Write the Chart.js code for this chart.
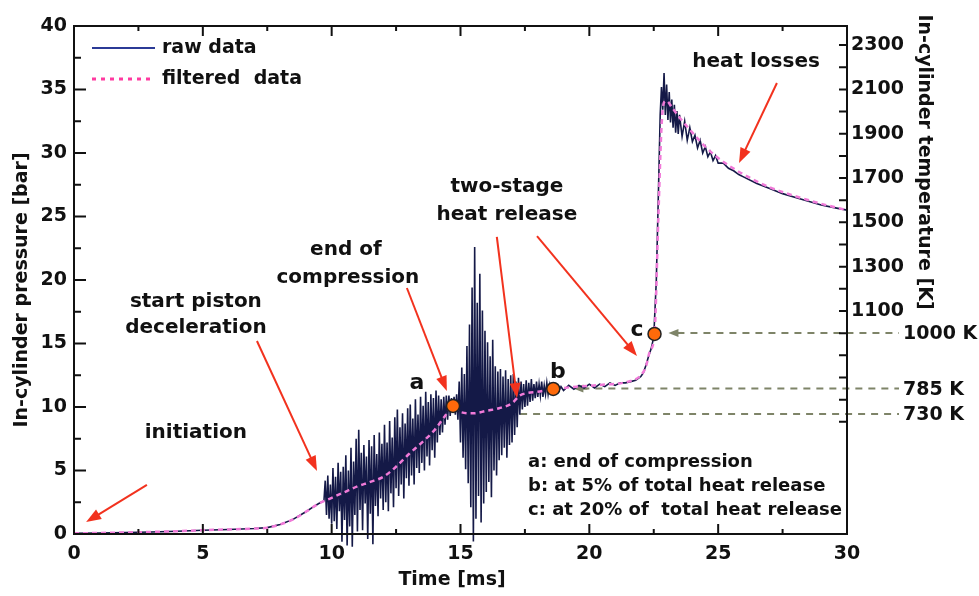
<!DOCTYPE html>
<html>
<head>
<meta charset="utf-8">
<script src="https://cdn.jsdelivr.net/npm/chart.js@4.4.1/dist/chart.umd.min.js"></script>
<style>
  html, body { margin: 0; padding: 0; background: #fff; }
  #chart-container { width: 979px; height: 596px; position: relative; }
</style>
</head>
<body>
<div id="chart-container"><canvas id="myChart"></canvas></div>
<script>
// ---- data ----
const timeTicks = [0, 5, 10, 15, 20, 25, 30];
const pressureTicks = [0, 5, 10, 15, 20, 25, 30, 35, 40];
const tempTicks = [600, 700, 800, 900, 1000, 1100, 1200, 1300, 1400, 1500, 1600, 1700, 1800, 1900, 2000, 2100, 2200, 2300];
const tempLabels = [1100, 1300, 1500, 1700, 1900, 2100, 2300];

// raw pressure trace [ms], [bar]
const rawTime = [
  0, 1, 2, 3, 4, 5, 6, 7, 7.5, 8, 8.5, 9, 9.3, 9.5,
  9.70, 9.75, 9.80, 9.85, 9.90, 9.95, 10.00,
  10.05, 10.10, 10.15, 10.20, 10.25, 10.30, 10.35, 10.40, 10.45, 10.50,
  10.55, 10.60, 10.65, 10.70, 10.75, 10.80, 10.85, 10.90, 10.95, 11.00,
  11.05, 11.10, 11.15, 11.20, 11.25, 11.30, 11.35, 11.40, 11.45, 11.50,
  11.55, 11.60, 11.65, 11.70, 11.75, 11.80, 11.85, 11.90, 11.95, 12.00,
  12.05, 12.10, 12.15, 12.20, 12.25, 12.30, 12.35, 12.40, 12.45, 12.50,
  12.55, 12.60, 12.65, 12.70, 12.75, 12.80, 12.85, 12.90, 12.95, 13.00,
  13.05, 13.10, 13.15, 13.20, 13.25, 13.30, 13.35, 13.40, 13.45, 13.50,
  13.55, 13.60, 13.65, 13.70, 13.75, 13.80, 13.85, 13.90, 13.95, 14.00,
  14.05, 14.10, 14.15, 14.20, 14.25, 14.30, 14.35, 14.40, 14.45, 14.50,
  14.55, 14.60, 14.65, 14.70, 14.75, 14.80, 14.85, 14.90, 14.95, 15.00,
  15.05, 15.10, 15.15, 15.20, 15.25, 15.30, 15.35, 15.40, 15.45, 15.50,
  15.55, 15.60, 15.65, 15.70, 15.75, 15.80, 15.85, 15.90, 15.95, 16.00,
  16.05, 16.10, 16.15, 16.20, 16.25, 16.30, 16.35, 16.40, 16.45, 16.50,
  16.55, 16.60, 16.65, 16.70, 16.75, 16.80, 16.85, 16.90, 16.95, 17.00,
  17.05, 17.10, 17.15, 17.20, 17.25, 17.30, 17.35, 17.40, 17.45, 17.50,
  17.55, 17.60, 17.65, 17.70, 17.75, 17.80, 17.85, 17.90, 17.95, 18.00,
  18.05, 18.10, 18.15, 18.20, 18.25, 18.30, 18.35, 18.40, 18.45, 18.50,
  18.6, 18.7, 18.8, 18.9, 19.0, 19.2, 19.4, 19.6, 19.8, 20.0,
  20.2, 20.4, 20.6, 20.8, 21.0, 21.2, 21.4, 21.6, 21.8, 22.0,
  22.1, 22.2, 22.3, 22.4, 22.5, 22.6, 22.7, 22.75, 22.8, 22.85,
  22.9, 22.95, 23.0, 23.05, 23.1, 23.15, 23.2, 23.25, 23.3, 23.35,
  23.4, 23.45, 23.5, 23.6, 23.7, 23.8, 23.9, 24.0, 24.1, 24.2,
  24.3, 24.4, 24.5, 24.6, 24.7, 24.8, 24.9, 25.0, 25.2, 25.4,
  25.6, 25.8, 26.0, 26.5, 27.0, 27.5, 28.0, 28.5, 29.0, 29.5, 30.0
];
const rawPressure = [
  0.05, 0.08, 0.12, 0.16, 0.22, 0.3, 0.36, 0.43, 0.5, 0.75, 1.15, 1.75, 2.15, 2.4,
  2.6, 4.2, 1.5, 4.6, 1.2, 3.9, 0.8,
  5.2, 1.0, 4.5, 0.4, 5.6, 1.8, 4.9, -0.6, 5.3, 1.1,
  6.2, -0.9, 5.0, 0.6, 6.8, -1.0, 5.7, 1.5, 7.5, 0.2,
  8.2, 1.9, 6.4, 0.3, 7.0, 2.4, 6.1, -0.4, 7.4, 1.6,
  6.9, -0.8, 7.8, 2.2, 6.3, 1.4, 8.0, 2.8, 7.1, 1.9,
  8.6, 2.5, 7.2, 1.8, 8.9, 3.2, 7.6, 2.1, 9.2, 3.6,
  9.8, 3.0, 8.4, 3.9, 9.5, 2.8, 8.7, 4.4, 9.9, 3.8,
  10.2, 4.6, 9.1, 3.9, 10.6, 5.2, 9.4, 4.8, 10.8, 5.6,
  10.1, 5.0, 11.2, 6.1, 10.4, 5.4, 11.0, 6.6, 10.7, 6.0,
  11.3, 7.2, 10.9, 7.8, 10.6, 8.0, 10.8, 8.6, 10.9, 9.0,
  10.9, 9.3, 10.7, 9.6, 10.8, 9.4, 11.0, 9.0, 12.0, 7.2,
  13.1, 6.0, 12.6, 5.1, 14.8, 4.0, 16.5, 2.1, 19.4, -0.6,
  22.6, 1.2, 18.2, 3.0, 20.5, 0.9, 17.6, 2.4, 16.0, 3.3,
  15.1, 4.1, 14.0, 2.9, 15.3, 5.0, 13.2, 4.6, 12.8, 5.8,
  13.0, 6.2, 12.4, 6.8, 12.9, 6.0, 12.2, 7.0, 12.5, 7.2,
  12.6, 7.8, 12.0, 8.4, 12.3, 9.4, 12.0, 9.8, 11.8, 10.0,
  12.1, 10.1, 11.9, 10.4, 12.2, 10.5, 11.8, 10.7, 12.0, 10.8,
  11.8, 10.9, 12.0, 10.8, 11.7, 11.0, 11.9, 11.0, 11.7, 11.1,
  11.4, 11.6, 11.2, 11.6, 11.3, 11.7, 11.4, 11.7, 11.5, 11.8,
  11.5, 11.8, 11.6, 11.9, 11.7, 11.9, 11.9, 12.0, 12.1, 12.4,
  12.7, 13.3, 14.0, 14.6, 15.5, 20.0, 28.5, 33.0, 35.2, 33.4,
  36.3, 33.0, 35.4, 32.6, 34.8, 32.4, 34.2, 32.0, 33.8, 31.6,
  33.3, 31.5, 33.0, 31.3, 32.5, 31.0, 32.0, 30.9, 31.4, 30.4,
  31.0, 30.0, 30.5, 29.7, 30.1, 29.4, 29.8, 29.2, 29.2, 28.8,
  28.6, 28.3, 28.1, 27.6, 27.2, 26.8, 26.5, 26.2, 25.9, 25.7, 25.5
];

// filtered pressure trace
const filtTime = [0, 2, 4, 5, 6, 7, 7.5, 8, 8.5, 9, 9.5, 10, 10.5, 11, 11.5, 12, 12.5, 13, 13.5, 14,
  14.4, 14.7, 15, 15.5, 16, 16.5, 17, 17.3, 17.6, 18, 18.6, 19.5, 20.5, 21.5, 22, 22.2, 22.35,
  22.53, 22.68, 22.8, 22.9, 23.0, 23.2, 23.5, 24, 24.5, 25, 25.5, 26, 27, 28, 29, 30];
const filtPressure = [0.05, 0.12, 0.22, 0.3, 0.36, 0.43, 0.5, 0.75, 1.15, 1.75, 2.4, 2.85, 3.3, 3.75, 4.1, 4.5, 5.3, 6.3, 7.2, 8.2,
  9.3, 10.1, 9.6, 9.5, 9.7, 9.9, 10.3, 10.9, 11.1, 11.2, 11.4, 11.6, 11.75, 12.0, 12.5, 13.2, 14.4,
  15.75, 25, 32, 34, 34.1, 33.6, 32.8, 31.6, 30.5, 29.6, 28.9, 28.3, 27.3, 26.6, 26.0, 25.5];

// marked points a, b, c
const markerNames = ["a", "b", "c"];
const markerTime = [14.71, 18.6, 22.53];
const markerPressure = [10.08, 11.42, 15.75];

// temperature reference levels (pressure where the dashed guide sits)
const levelNames = ["1000 K", "785 K", "730 K"];
const levelPressure = [15.83, 11.45, 9.45];
const levelStartTime = [23.07, 19.38, 15.45];

const notes = ["a: end of compression", "b: at 5% of total heat release", "c: at 20% of  total heat release"];

// ---- layout of labels and arrows (in data units) ----
const labelsLayout = [
  { text: "heat losses", t: 26.47, p: 37.17 },
  { text: "two-stage", t: 16.8, p: 27.32 },
  { text: "heat release", t: 16.8, p: 25.12 },
  { text: "end of", t: 10.55, p: 22.36 },
  { text: "compression", t: 10.63, p: 20.16 },
  { text: "start piston", t: 4.73, p: 18.27 },
  { text: "deceleration", t: 4.73, p: 16.22 },
  { text: "initiation", t: 4.73, p: 7.95 }
];
const markerLabelPos = [[13.31, 11.89], [18.78, 12.76], [21.85, 16.06]];
const arrowsLayout = [
  [2.83, 3.86, 0.47, 0.94],
  [7.10, 15.20, 9.43, 4.96],
  [12.92, 19.37, 14.47, 11.26],
  [16.41, 23.39, 17.19, 10.71],
  [17.97, 23.46, 21.85, 14.02],
  [27.28, 35.51, 25.81, 29.21]
];

const FONT = '"DejaVu Sans", Verdana, sans-serif';
const bold = (s) => `bold ${s}px ${FONT}`;
const RED = "#f2321e";
const GUIDE = "#7e8468";

const toXY = (ts, ps) => ts.map((t, i) => ({ x: t, y: ps[i] }));

function drawArrow(ctx, x0, y0, x1, y1, color, len, wid) {
  const ang = Math.atan2(y1 - y0, x1 - x0);
  const c = Math.cos(ang), s = Math.sin(ang);
  ctx.strokeStyle = color;
  ctx.fillStyle = color;
  ctx.beginPath();
  ctx.moveTo(x0, y0);
  ctx.lineTo(x1 - c * len * 0.8, y1 - s * len * 0.8);
  ctx.stroke();
  ctx.beginPath();
  ctx.moveTo(x1, y1);
  ctx.lineTo(x1 - c * len + s * wid / 2, y1 - s * len - c * wid / 2);
  ctx.lineTo(x1 - c * len - s * wid / 2, y1 - s * len + c * wid / 2);
  ctx.closePath();
  ctx.fill();
}

const decorations = {
  id: "decorations",
  beforeDatasetsDraw(chart) {
    const { ctx, chartArea } = chart;
    const x = chart.scales.x, y = chart.scales.y;
    ctx.save();
    ctx.lineWidth = 2;
    levelPressure.forEach((p, i) => {
      const py = y.getPixelForValue(p);
      const px = x.getPixelForValue(levelStartTime[i]);
      const xEnd = chartArea.right + 52;
      ctx.strokeStyle = GUIDE;
      ctx.setLineDash([7, 6]);
      ctx.beginPath();
      ctx.moveTo(px + 9, py);
      ctx.lineTo(xEnd, py);
      ctx.stroke();
      ctx.setLineDash([]);
      drawArrow(ctx, px + 14, py, px, py, GUIDE, 10, 8);
      ctx.fillStyle = "#111";
      ctx.font = bold(19);
      ctx.textAlign = "left";
      ctx.textBaseline = "middle";
      ctx.fillText(levelNames[i], xEnd + 4, py + 1);
    });
    ctx.restore();
  },
  afterDraw(chart) {
    const { ctx, chartArea: ca } = chart;
    const x = chart.scales.x, y = chart.scales.y, y2 = chart.scales.y2;
    ctx.save();
    // frame
    ctx.strokeStyle = "#111";
    ctx.lineWidth = 2;
    ctx.strokeRect(ca.left, ca.top, ca.right - ca.left, ca.bottom - ca.top);
    // ticks
    ctx.lineWidth = 2;
    ctx.beginPath();
    for (let t = 0; t <= 30; t += 2.5) {
      const px = x.getPixelForValue(t);
      const len = t % 5 === 0 ? 10 : 5;
      ctx.moveTo(px, ca.bottom); ctx.lineTo(px, ca.bottom - len);
      ctx.moveTo(px, ca.top); ctx.lineTo(px, ca.top + len);
    }
    for (let p = 0; p <= 40; p += 2.5) {
      const py = y.getPixelForValue(p);
      const len = p % 5 === 0 ? 12 : 7;
      ctx.moveTo(ca.left, py); ctx.lineTo(ca.left + len, py);
    }
    tempTicks.forEach((v) => {
      const py = y2.getPixelForValue(v);
      ctx.moveTo(ca.right, py); ctx.lineTo(ca.right - 8, py);
    });
    ctx.stroke();

    // axis titles
    ctx.fillStyle = "#111";
    ctx.font = bold(19);
    ctx.textAlign = "center";
    ctx.textBaseline = "middle";
    ctx.fillText("Time [ms]", 452, 580);
    ctx.save();
    ctx.translate(22, 290);
    ctx.rotate(-Math.PI / 2);
    ctx.fillText("In-cylinder pressure [bar]", 0, 0);
    ctx.restore();
    ctx.save();
    ctx.translate(924, 162);
    ctx.rotate(Math.PI / 2);
    ctx.fillText("In-cylinder temperature [K]", 0, 0);
    ctx.restore();

    // legend
    const lx = ca.left + 18;
    ctx.lineWidth = 2;
    ctx.strokeStyle = "#2b3a96";
    ctx.beginPath(); ctx.moveTo(lx, ca.top + 22); ctx.lineTo(lx + 63, ca.top + 22); ctx.stroke();
    ctx.strokeStyle = "#ff3aa0";
    ctx.lineWidth = 3;
    ctx.setLineDash([4, 5]);
    ctx.beginPath(); ctx.moveTo(lx, ca.top + 53); ctx.lineTo(lx + 63, ca.top + 53); ctx.stroke();
    ctx.setLineDash([]);
    ctx.textAlign = "left";
    ctx.font = bold(19);
    ctx.fillText("raw data", lx + 70, ca.top + 22);
    ctx.fillText("filtered  data", lx + 70, ca.top + 53);

    // red arrows
    ctx.lineWidth = 2;
    arrowsLayout.forEach((a) => {
      drawArrow(ctx, x.getPixelForValue(a[0]), y.getPixelForValue(a[1]),
        x.getPixelForValue(a[2]), y.getPixelForValue(a[3]), RED, 15, 11);
    });

    // annotation text
    ctx.fillStyle = "#111";
    ctx.textAlign = "center";
    ctx.font = bold(20);
    labelsLayout.forEach((l) => {
      ctx.fillText(l.text, x.getPixelForValue(l.t), y.getPixelForValue(l.p));
    });
    ctx.font = bold(22);
    markerNames.forEach((n, i) => {
      ctx.fillText(n, x.getPixelForValue(markerLabelPos[i][0]), y.getPixelForValue(markerLabelPos[i][1]));
    });
    ctx.font = bold(18);
    ctx.textAlign = "left";
    const nx = x.getPixelForValue(17.62);
    [5.67, 3.78, 1.89].forEach((p, i) => {
      ctx.fillText(notes[i], nx, y.getPixelForValue(p));
    });
    ctx.restore();
  }
};

const config = {
  type: "line",
  data: {
    datasets: [
      {
        type: "scatter",
        label: "points",
        data: toXY(markerTime, markerPressure),
        backgroundColor: "#ff6a0a",
        borderColor: "#222",
        borderWidth: 1.5,
        pointRadius: 6.5,
        showLine: false,
        order: 0
      },
      {
        label: "filtered  data",
        data: toXY(filtTime, filtPressure),
        borderColor: "#f07ad8",
        borderWidth: 2.5,
        borderDash: [5, 4],
        pointRadius: 0,
        cubicInterpolationMode: "monotone",
        order: 1
      },
      {
        label: "raw data",
        data: toXY(rawTime, rawPressure),
        borderColor: "#141947",
        borderWidth: 1.6,
        pointRadius: 0,
        tension: 0,
        clip: false,
        order: 2
      }
    ]
  },
  options: {
    responsive: true,
    maintainAspectRatio: false,
    animation: false,
    layout: { padding: { top: 26, left: 0, right: 0, bottom: 0 } },
    plugins: { legend: { display: false }, tooltip: { enabled: false } },
    scales: {
      x: {
        type: "linear",
        min: 0,
        max: 30,
        afterBuildTicks: (s) => { s.ticks = timeTicks.map((v) => ({ value: v })); },
        afterFit: (s) => { s.height = 62; },
        ticks: { font: { family: FONT, size: 19, weight: "bold" }, color: "#111", padding: 9, autoSkip: false, maxRotation: 0 },
        grid: { display: false, drawTicks: false },
        border: { display: false }
      },
      y: {
        position: "left",
        min: 0,
        max: 40,
        afterBuildTicks: (s) => { s.ticks = pressureTicks.map((v) => ({ value: v })); },
        afterFit: (s) => { s.width = 74; },
        ticks: { font: { family: FONT, size: 19, weight: "bold" }, color: "#111", padding: 7, autoSkip: false },
        grid: { display: false, drawTicks: false },
        border: { display: false }
      },
      y2: {
        type: "linear",
        position: "right",
        min: 94,
        max: 2386,
        afterBuildTicks: (s) => { s.ticks = tempTicks.map((v) => ({ value: v })); },
        afterFit: (s) => { s.width = 132; },
        ticks: {
          font: { family: FONT, size: 19, weight: "bold" },
          color: "#111",
          padding: 4,
          autoSkip: false,
          callback: (v) => (tempLabels.includes(v) ? String(v) : "")
        },
        grid: { display: false, drawTicks: false },
        border: { display: false }
      }
    }
  },
  plugins: [decorations]
};

const myChart = new Chart(document.getElementById("myChart"), config);
</script>
</body>
</html>
